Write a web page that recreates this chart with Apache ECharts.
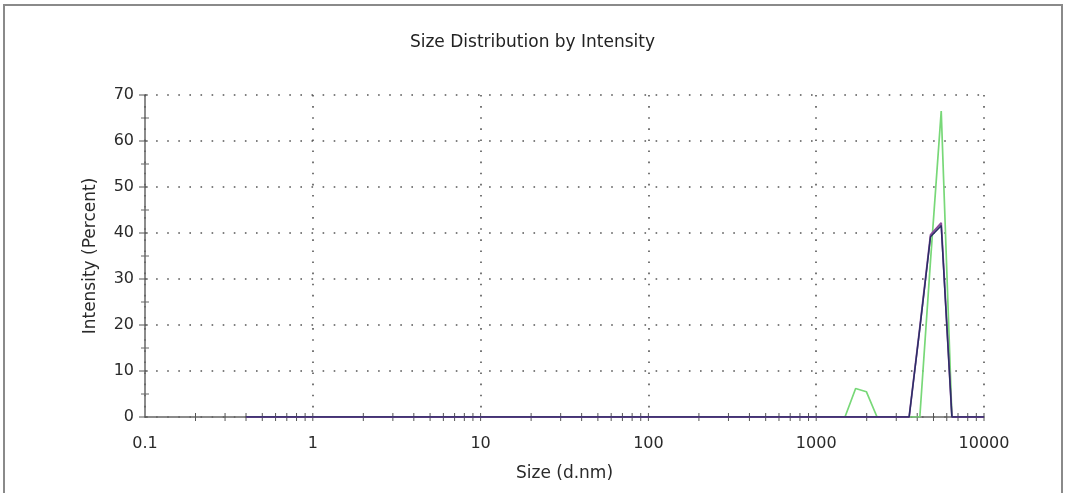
<!DOCTYPE html>
<html>
<head>
<meta charset="utf-8">
<script src="https://cdn.jsdelivr.net/npm/echarts@6/dist/echarts.min.js"></script>
<style>
html,body{margin:0;padding:0;background:#fff;}
#chart{width:1065px;height:493px;}
</style>
</head>
<body>
<div id="chart"></div>
<script>
// Size bins (d.nm)
var sizes = [0.4, 0.4632, 0.5365, 0.6213, 0.7195, 0.8332, 0.9649,
  1.117, 1.294, 1.499, 1.736, 2.010, 2.328, 2.696, 3.122, 3.615, 4.187, 4.849, 5.615, 6.503, 7.531, 8.721,
  10.10, 11.70, 13.54, 15.69, 18.17, 21.04, 24.36, 28.21, 32.67, 37.84, 43.82, 50.75, 58.77, 68.06, 78.82, 91.28,
  105.7, 122.4, 141.8, 164.2, 190.1, 220.2, 255.0, 295.3, 342.0, 396.1, 458.7, 531.2, 615.1, 712.4, 825.0, 955.4,
  1106, 1281, 1484, 1718, 1990, 2305, 2669, 3091, 3580, 4145, 4801, 5560, 6439, 7456, 8635, 10000];

var greenValues = [0,0,0,0,0,0,0,
  0,0,0,0,0,0,0,0,0,0,0,0,0,0,0,
  0,0,0,0,0,0,0,0,0,0,0,0,0,0,0,0,
  0,0,0,0,0,0,0,0,0,0,0,0,0,0,0,0,
  0,0,0,6.2,5.5,0,0,0,0,0,34,66.5,0,0,0,
  0];
var purpleValues = [0,0,0,0,0,0,0,
  0,0,0,0,0,0,0,0,0,0,0,0,0,0,0,
  0,0,0,0,0,0,0,0,0,0,0,0,0,0,0,0,
  0,0,0,0,0,0,0,0,0,0,0,0,0,0,0,0,
  0,0,0,0,0,0,0,0,0,19.5,39.6,42.2,0,0,0,
  0];
var navyValues = [0,0,0,0,0,0,0,
  0,0,0,0,0,0,0,0,0,0,0,0,0,0,0,
  0,0,0,0,0,0,0,0,0,0,0,0,0,0,0,0,
  0,0,0,0,0,0,0,0,0,0,0,0,0,0,0,0,
  0,0,0,0,0,0,0,0,0,19.2,39.2,41.6,0,0,0,
  0];

var xTickLabels = ['0.1', '1', '10', '100', '1000', '10000'];
var xTicks = [0.2,0.3,0.4,0.5,0.6,0.7,0.8,0.9,1,
  2,3,4,5,6,7,8,9,10,
  20,30,40,50,60,70,80,90,100,
  200,300,400,500,600,700,800,900,1000,
  2000,3000,4000,5000,6000,7000,8000,9000,10000];
var yMinorTicks = [5,15,25,35,45,55,65];
var yMajorTicks = [0,10,20,30,40,50,60,70];

function pairs(vals){ return sizes.map(function(s,i){ return [s, vals[i]]; }); }

var chart = echarts.init(document.getElementById('chart'));
var FONT = 'DejaVu Sans, Arial, sans-serif';

function xTickRender(params, api){
  var p = api.coord([api.value(0), api.value(1)]);
  return {type:'line', shape:{x1:p[0], y1:p[1]-4, x2:p[0], y2:p[1]+4},
    style:{stroke:'#555', lineWidth:1}};
}
function yMinorRender(params, api){
  var p = api.coord([api.value(0), api.value(1)]);
  return {type:'line', shape:{x1:p[0]-4, y1:p[1], x2:p[0]+4, y2:p[1]},
    style:{stroke:'#666', lineWidth:1}};
}
function yMajorRender(params, api){
  var p = api.coord([api.value(0), api.value(1)]);
  return {type:'line', shape:{x1:p[0]-6, y1:p[1], x2:p[0]+3, y2:p[1]},
    style:{stroke:'#555', lineWidth:1}};
}

chart.setOption({
  backgroundColor:'#fff',
  animation:false,
  graphic:[{type:'rect', shape:{x:4, y:5, width:1058, height:520},
    style:{fill:'none', stroke:'#8a8a8a', lineWidth:2}, silent:true}],
  title:{text:'Size Distribution by Intensity', left:'center', top:29,
    textStyle:{fontFamily:FONT, fontSize:17, fontWeight:'normal', color:'#222'}},
  grid:{left:145, right:81, top:95, bottom:76},
  xAxis:{type:'log', logBase:10, min:0.1, max:10000,
    name:'Size (d.nm)', nameLocation:'middle', nameGap:48,
    nameTextStyle:{fontFamily:FONT, fontSize:17, color:'#2a2a2a'},
    axisLine:{lineStyle:{color:'#666', width:1.5}},
    axisTick:{show:false},
    minorTick:{show:false},
    axisLabel:{fontFamily:FONT, fontSize:16, color:'#2a2a2a', margin:19,
      formatter:function(v){ var i = Math.round(Math.log10(v)) + 1; return xTickLabels[i] || ''; }},
    splitLine:{show:true, lineStyle:{color:'#555', width:1.6, type:[1.6, 9.5]}}},
  yAxis:{type:'value', min:0, max:70, interval:10,
    name:'Intensity (Percent)', nameLocation:'middle', nameGap:46, nameRotate:90,
    nameTextStyle:{fontFamily:FONT, fontSize:17, color:'#2a2a2a'},
    axisLine:{show:true, lineStyle:{color:'#666', width:1.5}},
    axisTick:{show:false},
    axisLabel:{fontFamily:FONT, fontSize:16, color:'#2a2a2a', margin:11},
    splitLine:{show:true, lineStyle:{color:'#555', width:1.6, type:[1.6, 9.5]}}},
  series:[
    {type:'custom', renderItem:xTickRender, data:xTicks.map(function(v){return [v,0];}), clip:false, silent:true, z:3},
    {type:'custom', renderItem:yMinorRender, data:yMinorTicks.map(function(v){return [0.1,v];}), clip:false, silent:true, z:3},
    {type:'custom', renderItem:yMajorRender, data:yMajorTicks.map(function(v){return [0.1,v];}), clip:false, silent:true, z:3},
    {type:'line', data:pairs(greenValues), showSymbol:false, symbol:'none',
      lineStyle:{color:'#78d878', width:1.7}, z:4},
    {type:'line', data:pairs(purpleValues), showSymbol:false, symbol:'none',
      lineStyle:{color:'#8b4a9c', width:1.8}, z:5},
    {type:'line', data:pairs(navyValues), showSymbol:false, symbol:'none',
      lineStyle:{color:'#2a2f66', width:1.5}, z:6}
  ]
});
</script>
</body>
</html>
